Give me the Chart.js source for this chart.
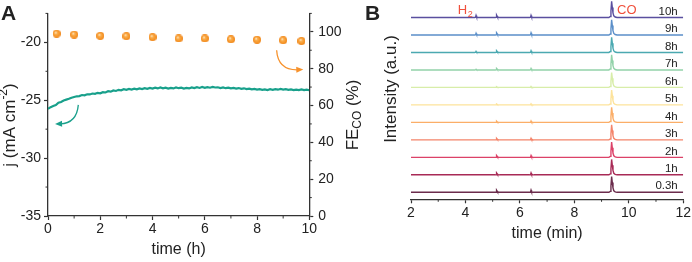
<!DOCTYPE html>
<html>
<head>
<meta charset="utf-8">
<script src="https://cdn.jsdelivr.net/npm/chart.js@4"></script>
<style>
  body { margin: 0; background: #fff; }
  #wrap { position: relative; width: 692px; height: 262px; overflow: hidden; }
  #chartA { position: absolute; left: 0; top: 0; }
  #chartB { position: absolute; left: 350px; top: 0; }
</style>
</head>
<body>
<div id="wrap">
  <canvas id="chartA" width="362" height="262"></canvas>
  <canvas id="chartB" width="342" height="262"></canvas>
</div>
<script>
// ---- panel A data: current density j (mA cm-2) vs time (h)
const jTime = [
  0, 0.1, 0.2, 0.3, 0.4, 0.5, 0.6, 0.7, 0.8, 0.9, 1, 1.1, 1.2, 1.3, 1.4, 1.5, 1.6, 1.7, 1.8, 1.9,
  2, 2.1, 2.2, 2.3, 2.4, 2.5, 2.6, 2.7, 2.8, 2.9, 3, 3.1, 3.2, 3.3, 3.4, 3.5, 3.6, 3.7, 3.8, 3.9,
  4, 4.1, 4.2, 4.3, 4.4, 4.5, 4.6, 4.7, 4.8, 4.9, 5, 5.1, 5.2, 5.3, 5.4, 5.5, 5.6, 5.7, 5.8, 5.9,
  6, 6.1, 6.2, 6.3, 6.4, 6.5, 6.6, 6.7, 6.8, 6.9, 7, 7.1, 7.2, 7.3, 7.4, 7.5, 7.6, 7.7, 7.8, 7.9,
  8, 8.1, 8.2, 8.3, 8.4, 8.5, 8.6, 8.7, 8.8, 8.9, 9, 9.1, 9.2, 9.3, 9.4, 9.5, 9.6, 9.7, 9.8, 9.9, 10
];
const jValues = [
  -25.75, -25.6, -25.5, -25.42, -25.22, -25.15, -25.02, -24.95, -24.88, -24.78,
  -24.72, -24.66, -24.64, -24.55, -24.58, -24.49, -24.5, -24.42, -24.45, -24.36,
  -24.4, -24.3, -24.33, -24.22, -24.26, -24.15, -24.2, -24.1, -24.14, -24.05,
  -24.1, -24.02, -24.08, -24.0, -24.06, -23.98, -24.04, -23.96, -24.02, -23.94,
  -24.0, -23.92, -23.98, -23.9, -23.97, -23.92, -23.99, -23.93, -23.98, -23.9,
  -23.96, -23.92, -24.0, -23.94, -23.98, -23.9, -23.95, -23.88, -23.94, -23.86,
  -23.93, -23.87, -23.92, -23.85, -23.9, -23.88, -23.95, -23.9, -23.96, -23.92,
  -23.98, -23.94, -24.0, -23.95, -24.02, -23.97, -24.04, -24.0, -24.06, -24.02,
  -24.08, -24.04, -24.1, -24.06, -24.12, -24.05, -24.1, -24.04, -24.09, -24.03,
  -24.08, -24.05, -24.11, -24.07, -24.13, -24.08, -24.12, -24.06, -24.12, -24.09, -24.14
];
// FE of CO (%) at each sampling time
const feTime = [0.33, 1, 2, 3, 4, 5, 6, 7, 8, 9, 9.7];
const feValues = [99.0, 98.5, 97.8, 97.6, 97.1, 96.4, 96.4, 95.9, 95.7, 95.4, 95.0];

// ---- panel B data: GC traces, bottom to top
const traceLabels = ['0.3h', '1h', '2h', '3h', '4h', '5h', '6h', '7h', '8h', '9h', '10h'];
const traceColors = ['#6b2c4c', '#a82a56', '#dc4268', '#f4846a', '#fbae68', '#fde39c',
                     '#d8eda9', '#92d2a9', '#4ba9b1', '#5b8fc9', '#5a4f9f'];
const peakTimes = [4.39, 5.15, 6.41, 9.37];            // H2, two small peaks, CO
const h2Heights  = [0, 0, 0, 0, 0, 0, 0, 0.04, 0.06, 0.1, 0.12];
const p515Heights = [0.12, 0.11, 0.1, 0.09, 0.07, 0.05, 0.04, 0.08, 0.1, 0.12, 0.14];
const p641Heights = [0.12, 0.11, 0.1, 0.09, 0.08, 0.06, 0.05, 0.08, 0.1, 0.12, 0.12];
const coHeights  = [0.9, 0.88, 0.88, 0.86, 0.86, 0.85, 0.85, 0.86, 0.86, 0.87, 0.92];
// peak profile (time offset, relative height)
const shapeDt  = [-0.1, -0.05, -0.025, 0, 0.025, 0.05, 0.08, 0.13, 0.2];
const shapeRel = [0, 0.06, 0.4, 1, 0.62, 0.28, 0.1, 0.03, 0];
const traceGap = 1, traceBase = 0.4;

const FONT = 'Arial, "Liberation Sans", sans-serif';
const INK = '#222';

// orange sphere marker
function sphere(r) {
  const c = document.createElement('canvas');
  c.width = c.height = r * 2;
  const g = c.getContext('2d');
  const grd = g.createRadialGradient(r * 0.75, r * 0.7, 0.2, r, r, r);
  grd.addColorStop(0, '#fff0d8');
  grd.addColorStop(0.3, '#fbb050');
  grd.addColorStop(0.8, '#f59224');
  grd.addColorStop(1, '#ee8418');
  g.fillStyle = grd;
  g.beginPath(); g.arc(r, r, r, 0, Math.PI * 2); g.fill();
  return c;
}

function minorTicks(ctx, scale, values, len, dir) {
  ctx.save();
  ctx.strokeStyle = '#333'; ctx.lineWidth = 1;
  values.forEach(v => {
    const p = scale.getPixelForValue(v);
    ctx.beginPath();
    if (dir === 'down') { ctx.moveTo(p, scale.top); ctx.lineTo(p, scale.top + len); }
    else if (dir === 'left') { ctx.moveTo(scale.right, p); ctx.lineTo(scale.right - len, p); }
    else { ctx.moveTo(scale.left, p); ctx.lineTo(scale.left + len, p); }
    ctx.stroke();
  });
  ctx.restore();
}

function arrow(ctx, x0, y0, cx, cy, x1, y1, color) {
  ctx.save();
  ctx.strokeStyle = color; ctx.fillStyle = color; ctx.lineWidth = 1.3;
  const a = Math.atan2(y1 - cy, x1 - cx);
  const bx = x1 - 5 * Math.cos(a), by = y1 - 5 * Math.sin(a);
  ctx.beginPath(); ctx.moveTo(x0, y0); ctx.quadraticCurveTo(cx, cy, bx, by); ctx.stroke();
  ctx.beginPath();
  ctx.moveTo(x1, y1);
  ctx.lineTo(x1 - 7 * Math.cos(a) + 3 * Math.sin(a), y1 - 7 * Math.sin(a) - 3 * Math.cos(a));
  ctx.lineTo(x1 - 7 * Math.cos(a) - 3 * Math.sin(a), y1 - 7 * Math.sin(a) + 3 * Math.cos(a));
  ctx.closePath(); ctx.fill();
  ctx.restore();
}

// draws text runs [text, 'n'|'sup'|'sub'] centred at 0,0 of the current transform
function richText(ctx, runs, size) {
  const fontOf = k => (k === 'n' ? size : size * 0.7) + 'px ' + FONT;
  let w = 0;
  runs.forEach(r => { ctx.font = fontOf(r[1]); w += ctx.measureText(r[0]).width; });
  let x = -w / 2;
  ctx.textBaseline = 'middle'; ctx.textAlign = 'left';
  runs.forEach(r => {
    ctx.font = fontOf(r[1]);
    const dy = r[1] === 'sup' ? -size * 0.35 : r[1] === 'sub' ? size * 0.28 : 0;
    ctx.fillText(r[0], x, dy);
    x += ctx.measureText(r[0]).width;
  });
}

function axisCommon(extra) {
  return Object.assign({
    type: 'linear',
    grid: { drawOnChartArea: false, drawTicks: true, tickLength: 4, tickColor: '#333', tickWidth: 1.2 },
    border: { display: true, color: '#333', width: 1.3 },
  }, extra);
}

// ---------------- chart A
const decorA = {
  id: 'decorA',
  afterDraw(chart) {
    const { ctx, scales } = chart;
    const x = scales.x, y = scales.y, y1 = scales.y1;
    minorTicks(ctx, x, [1, 3, 5, 7, 9], 2.5, 'down');
    minorTicks(ctx, y, [-32.5, -27.5, -22.5, -17.5], 2.5, 'left');
    minorTicks(ctx, y1, [10, 30, 50, 70, 90, 110], 2.5, 'right');
    arrow(ctx, x.getPixelForValue(1.16), y.getPixelForValue(-25.4),
          x.getPixelForValue(1.1), y.getPixelForValue(-27.0),
          x.getPixelForValue(0.27), y.getPixelForValue(-27.05), '#1aa08c');
    arrow(ctx, x.getPixelForValue(8.75), y1.getPixelForValue(90),
          x.getPixelForValue(8.8), y1.getPixelForValue(79),
          x.getPixelForValue(9.77), y1.getPixelForValue(79.5), '#f7922c');
    ctx.save();
    ctx.fillStyle = INK;
    ctx.font = 'bold 21px ' + FONT; ctx.textAlign = 'left'; ctx.textBaseline = 'alphabetic';
    ctx.fillText('A', 1, 20);
    ctx.font = '16px ' + FONT; ctx.textAlign = 'center'; ctx.textBaseline = 'middle';
    ctx.fillText('time (h)', (x.left + x.right) / 2, 250);
    ctx.translate(10, 125); ctx.rotate(-Math.PI / 2);
    richText(ctx, [['j (mA cm', 'n'], ['-2', 'sup'], [')', 'n']], 17);
    ctx.setTransform(1, 0, 0, 1, 0, 0);
    ctx.translate(353, 115); ctx.rotate(-Math.PI / 2);
    richText(ctx, [['FE', 'n'], ['CO', 'sub'], [' (%)', 'n']], 17);
    ctx.restore();
  }
};

new Chart(document.getElementById('chartA'), {
  type: 'line',
  data: {
    datasets: [
      {
        label: 'FE',
        data: feTime.map((t, i) => ({ x: t, y: feValues[i] })),
        yAxisID: 'y1', showLine: false,
        pointStyle: sphere(4), pointRadius: 4,
      },
      {
        label: 'j',
        data: jTime.map((t, i) => ({ x: t, y: jValues[i] })),
        yAxisID: 'y', borderColor: '#18a08b', borderWidth: 2.2, pointRadius: 0, tension: 0,
      },
    ]
  },
  options: {
    responsive: false, animation: false, devicePixelRatio: 1,
    layout: { padding: { top: 5, left: 0, right: 0, bottom: 0 } },
    plugins: { legend: { display: false }, tooltip: { enabled: false } },
    scales: {
      x: axisCommon({
        min: 0, max: 10,
        ticks: { stepSize: 2, font: { size: 14, family: FONT }, color: INK, padding: 1, maxRotation: 0 },
        afterFit: s => { s.height = 46; }
      }),
      y: axisCommon({
        position: 'left', min: -35, max: -17.5,
        ticks: { stepSize: 5, includeBounds: false, font: { size: 14, family: FONT }, color: INK, padding: 3 },
        afterFit: s => { s.width = 48; }
      }),
      y1: axisCommon({
        position: 'right', min: 0, max: 110,
        ticks: { stepSize: 20, includeBounds: false, font: { size: 14, family: FONT }, color: INK, padding: 5 },
        afterFit: s => { s.width = 52.7; }
      }),
    }
  },
  plugins: [decorA]
});

// ---------------- chart B
const traceData = traceLabels.map((lab, i) => {
  const base = traceBase + i * traceGap;
  const heights = [h2Heights[i], p515Heights[i], p641Heights[i], coHeights[i]];
  const pts = [{ x: 2, y: base }];
  peakTimes.forEach((t0, k) => {
    if (heights[k] <= 0) return;
    const widthScale = k === 3 ? 1 : 0.5;
    shapeDt.forEach((dt, j) => pts.push({ x: t0 + dt * widthScale, y: base + heights[k] * shapeRel[j] }));
  });
  pts.push({ x: 12, y: base });
  return pts;
});

const decorB = {
  id: 'decorB',
  afterDraw(chart) {
    const { ctx, scales } = chart;
    const x = scales.x, y = scales.y;
    minorTicks(ctx, x, [3, 5, 7, 9, 11], 2.5, 'down');
    ctx.save();
    ctx.fillStyle = INK;
    ctx.font = '11.5px ' + FONT; ctx.textAlign = 'right'; ctx.textBaseline = 'middle';
    traceLabels.forEach((lab, i) => {
      ctx.fillText(lab, x.getPixelForValue(11.8), y.getPixelForValue(traceBase + i * traceGap) - 6);
    });
    ctx.fillStyle = '#f0503c';
    ctx.font = '13px ' + FONT; ctx.textAlign = 'center';
    const top = traceBase + 10 * traceGap;
    ctx.fillText('CO', x.getPixelForValue(9.93), y.getPixelForValue(top + 0.4));
    const hx = x.getPixelForValue(3.72), hy = y.getPixelForValue(top + 0.42);
    ctx.textAlign = 'left';
    ctx.fillText('H', hx, hy);
    const hw = ctx.measureText('H').width;
    ctx.font = '9px ' + FONT;
    ctx.fillText('2', hx + hw + 0.5, hy + 4);
    ctx.fillStyle = INK;
    ctx.font = 'bold 21px ' + FONT; ctx.textAlign = 'left'; ctx.textBaseline = 'alphabetic';
    ctx.fillText('B', 15, 20);
    ctx.font = '16px ' + FONT; ctx.textAlign = 'center'; ctx.textBaseline = 'middle';
    ctx.fillText('time (min)', (x.left + x.right) / 2, 234);
    ctx.translate(41, 89); ctx.rotate(-Math.PI / 2);
    richText(ctx, [['Intensity (a.u.)', 'n']], 17);
    ctx.restore();
  }
};

new Chart(document.getElementById('chartB'), {
  type: 'line',
  data: {
    datasets: traceData.map((pts, i) => ({
      label: traceLabels[i], data: pts,
      borderColor: traceColors[i], borderWidth: 1.4, pointRadius: 0, tension: 0,
    }))
  },
  options: {
    responsive: false, animation: false, devicePixelRatio: 1,
    layout: { padding: { top: 0, left: 61, right: 8.7, bottom: 0 } },
    plugins: { legend: { display: false }, tooltip: { enabled: false } },
    scales: {
      x: axisCommon({
        min: 2, max: 12,
        ticks: { stepSize: 2, font: { size: 14, family: FONT }, color: INK, padding: 1, maxRotation: 0 },
        afterFit: s => { s.height = 62.7; }
      }),
      y: { type: 'linear', display: false, min: 0, max: 11.4 },
    }
  },
  plugins: [decorB]
});
</script>
</body>
</html>
